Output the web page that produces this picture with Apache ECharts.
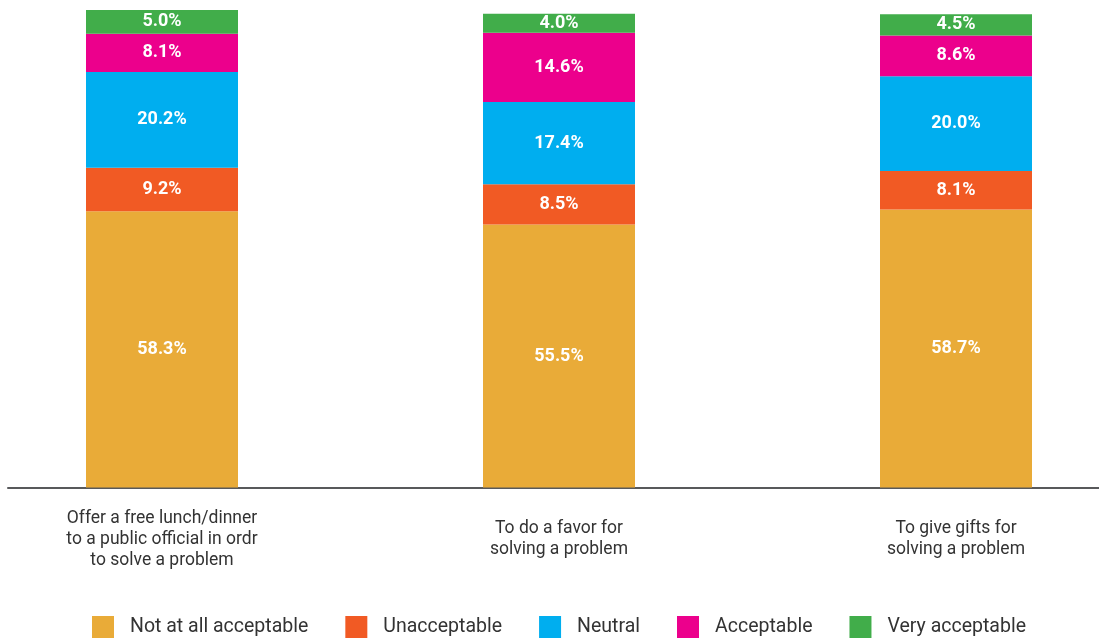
<!DOCTYPE html>
<html>
<head>
<meta charset="utf-8">
<script src="https://cdn.jsdelivr.net/npm/echarts@6/dist/echarts.min.js"></script>
<style>
html,body{margin:0;padding:0;background:#fff;}
#chart{width:1099px;height:640px;}
</style>
</head>
<body>
<div id="chart"></div>
<script>
const categories = [
  'Offer a free lunch/dinner\nto a public official in ordr\nto solve a problem',
  'To do a favor for\nsolving a problem',
  'To give gifts for\nsolving a problem'
];
const seriesNames = ['Not at all acceptable', 'Unacceptable', 'Neutral', 'Acceptable', 'Very acceptable'];
const notAtAllAcceptable = [58.3, 55.5, 58.7];
const unacceptable = [9.2, 8.5, 8.1];
const neutral = [20.2, 17.4, 20.0];
const acceptable = [8.1, 14.6, 8.6];
const veryAcceptable = [5.0, 4.0, 4.5];
const colors = ['#E9AB38', '#F15A24', '#00AEEF', '#EC008C', '#41AD4A'];

const valuesList = [notAtAllAcceptable, unacceptable, neutral, acceptable, veryAcceptable];
const totals = categories.map((_, i) => valuesList.reduce((s, arr) => s + arr[i], 0));
const yMax = Math.max(...totals);

const chart = echarts.init(document.getElementById('chart'));
chart.setOption({
  animation: false,
  color: colors,
  grid: [
    { left: -36.5, right: -55.5, top: 10, bottom: 152.5, outerBoundsMode: 'none', containLabel: false },
    { left: 8, right: 0, top: 10, bottom: 152.5, outerBoundsMode: 'none', containLabel: false }
  ],
  legend: {
    top: 611,
    left: 87,
    itemWidth: 22,
    itemHeight: 22,
    itemGap: 37,
    icon: 'rect',
    data: seriesNames,
    textStyle: { fontFamily: 'Roboto', fontSize: 19.5, color: '#333', padding: [0, 0, 0, 11] }
  },
  xAxis: [
    {
      type: 'category',
      gridIndex: 0,
      data: categories,
      axisLine: { show: false },
      axisTick: { show: false },
      axisLabel: {
        fontFamily: 'Roboto', fontSize: 17.5, color: '#333', lineHeight: 21,
        verticalAlign: 'middle', margin: 52, interval: 0, align: 'center'
      }
    },
    {
      type: 'category',
      gridIndex: 1,
      data: categories,
      axisLine: { show: true, lineStyle: { color: '#58595B', width: 2 } },
      axisTick: { show: false },
      axisLabel: { show: false }
    }
  ],
  yAxis: [
    { type: 'value', gridIndex: 0, min: 0, max: yMax, show: false, splitLine: { show: false } },
    { type: 'value', gridIndex: 1, min: 0, max: yMax, show: false, splitLine: { show: false } }
  ],
  series: seriesNames.map((name, i) => ({
    name: name,
    type: 'bar',
    stack: 'total',
    barWidth: 152,
    xAxisIndex: 0,
    yAxisIndex: 0,
    data: valuesList[i],
    itemStyle: { color: colors[i] },
    label: {
      show: true,
      position: 'inside',
      color: '#fff',
      fontFamily: 'Roboto',
      fontWeight: 'bold',
      fontSize: 18,
      formatter: p => p.value.toFixed(1) + '%'
    }
  }))
});
</script>
</body>
</html>
